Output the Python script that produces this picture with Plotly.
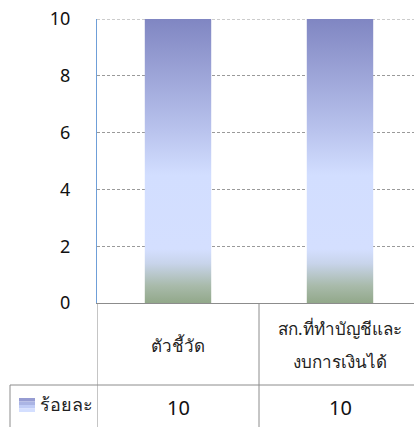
import plotly.graph_objects as go

categories = ["ตัวชี้วัด", "สก.ที่ทำบัญชีและ<br>งบการเงินได้"]
series_name = "ร้อยละ"
values = [10, 10]
y_ticks = [0, 2, 4, 6, 8, 10]

# body margin is removed by the post script, so figure pixels == screen pixels
O = 0
W, H = 414, 427
PL, PT, PB = 97, 19, 303          # plot area on screen (left, top, bottom)
L, T = PL - O, PT - O
B = H - (PB - O)
PLOT_H = PB - PT
CAT_W = 162
bar_half = 0.205

grad = [
    [0.0, "rgb(146,168,138)"],
    [0.06, "rgb(168,186,170)"],
    [0.14, "rgb(200,212,235)"],
    [0.19, "rgb(212,223,255)"],
    [0.45, "rgb(210,222,255)"],
    [0.6, "rgb(186,196,238)"],
    [1.0, "rgb(128,134,194)"],
]


def py(p):
    """screen pixel row -> paper y"""
    return (PB - p) / PLOT_H


def px(p):
    """screen pixel column -> paper x"""
    return (p - PL) / (W - L)


fig = go.Figure()
for i, v in enumerate(values):
    fig.add_trace(go.Scatter(
        x=[i - bar_half, i + bar_half, i + bar_half, i - bar_half, i - bar_half],
        y=[0, 0, v, v, 0],
        mode="lines", fill="toself",
        fillgradient=dict(type="vertical", colorscale=grad),
        line=dict(width=0), hoverinfo="skip", showlegend=False,
    ))

shapes = []
grey = "#8c8c8c"
# top gridline (Plotly omits it at the range edge)
shapes.append(dict(type="line", xref="paper", yref="y", x0=0, x1=1,
                   y0=max(y_ticks), y1=max(y_ticks), layer="below",
                   line=dict(color="#9a9a9a", width=1, dash="3px,2px")))
for b in [-0.5 + k for k in range(len(categories) + 1)]:
    shapes.append(dict(type="line", xref="x", yref="paper", x0=b, x1=b,
                       y0=0, y1=py(H + 10), line=dict(color=grey, width=1)))
shapes.append(dict(type="line", xref="paper", yref="paper", x0=px(10), x1=1,
                   y0=py(385), y1=py(385), line=dict(color=grey, width=1)))
shapes.append(dict(type="line", xref="paper", yref="paper", x0=px(10), x1=px(10),
                   y0=py(385), y1=py(H + 10), line=dict(color=grey, width=1)))
key_cols = ["rgb(150,156,210)", "rgb(170,180,228)", "rgb(192,204,246)", "rgb(212,223,255)"]
kt, kb = 398, 412
step = (kb - kt) / len(key_cols)
for j, c in enumerate(key_cols):
    shapes.append(dict(type="rect", xref="paper", yref="paper", x0=px(19), x1=px(35),
                       y0=py(kt + (j + 1) * step), y1=py(kt + j * step),
                       fillcolor=c, line=dict(width=0)))

ann = []
fam = "Tahoma, Noto Sans, DejaVu Sans"
txt_font = dict(family=fam, size=17, color="#222")
for i, c in enumerate(categories):
    lines = c.split("<br>")
    n = len(lines)
    centre = 345
    gap = 33
    for k, ln in enumerate(lines):
        yp = centre + (k - (n - 1) / 2) * gap
        ann.append(dict(x=i, y=py(yp), xref="x", yref="paper", text=ln,
                        showarrow=False, font=txt_font, xanchor="center", yanchor="middle"))
for i, v in enumerate(values):
    ann.append(dict(x=i, y=py(407), xref="x", yref="paper", text=str(v),
                    showarrow=False, font=dict(family=fam, size=20, color="#111"),
                    xanchor="center", yanchor="middle"))
ann.append(dict(x=px(38), y=py(404), xref="paper", yref="paper", text=series_name,
                showarrow=False, font=dict(family=fam, size=18, color="#222"),
                xanchor="left", yanchor="middle"))

fig.update_layout(
    width=W, height=H,
    margin=dict(l=L, r=0, t=T, b=B, autoexpand=False),
    paper_bgcolor="white", plot_bgcolor="white",
    shapes=shapes, annotations=ann, showlegend=False,
    xaxis=dict(range=[-0.5, -0.5 + (W - L) / CAT_W], showgrid=False, zeroline=False,
               showticklabels=False, showline=True, linecolor=grey, linewidth=1,
               fixedrange=True),
    yaxis=dict(range=[0, 10], tickvals=y_ticks, showgrid=True, gridcolor="#9a9a9a",
               griddash="3px,2px", gridwidth=1, zeroline=False, showline=True,
               linecolor="#6f9fd8", linewidth=1, ticks="", ticklabelstandoff=22,
               ticklabeloverflow="allow",
               tickfont=dict(family=fam, size=18, color="#111"),
               fixedrange=True),
)
fig.write_html("out.html", config={"displayModeBar": False},
               post_script="document.body.style.margin='0';")
